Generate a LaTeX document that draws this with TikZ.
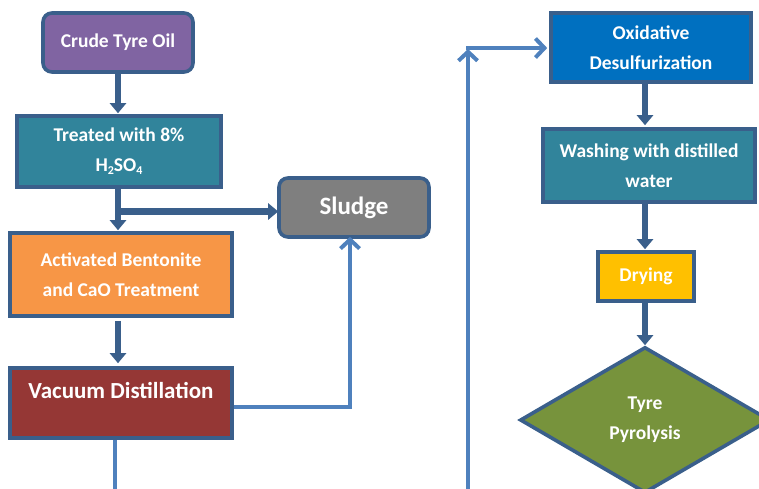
\documentclass[tikz,border=0pt]{standalone}
\usepackage{fontspec}
\setmainfont{Carlito}
\usetikzlibrary{arrows.meta,shapes.geometric}
\definecolor{bordc}{HTML}{3A5F8B}
\definecolor{purp}{HTML}{8064A2}
\definecolor{teal}{HTML}{31849B}
\definecolor{orng}{HTML}{F79646}
\definecolor{maroon}{HTML}{953735}
\definecolor{grayb}{HTML}{7F7F7F}
\definecolor{blueb}{HTML}{0070C0}
\definecolor{yell}{HTML}{FFC000}
\definecolor{grn}{HTML}{77933C}
\definecolor{lblue}{HTML}{4F81BD}
\newcommand{\subsc}[1]{\raisebox{-0.3ex}{\fontsize{12}{12}\selectfont #1}}
\tikzset{
  box/.style={draw=bordc, line width=3.6pt, text=white, align=center, inner sep=0pt,
    font=\fontsize{19.5}{30}\selectfont\bfseries},
  rbox/.style={box, rounded corners=9pt},
  darr/.style={draw=bordc, line width=6.5pt, -{Triangle[length=10pt,width=16pt]}},
  larr/.style={draw=lblue, line width=4pt, -{Straight Barb[length=9pt,width=19pt]}},
  lline/.style={draw=lblue, line width=4pt},
}
\begin{document}
\begin{tikzpicture}[x=1pt,y=-1pt]
\useasboundingbox (0,0) rectangle (759,488);
\clip (0,0) rectangle (759,488);
% left column
\node[rbox, fill=purp, minimum width=150pt, minimum height=59pt] (crude) at (118,42.5) {Crude Tyre Oil};
\node[box, fill=teal, minimum width=204pt, minimum height=71pt] (treat) at (119,151.5) {Treated with 8\%\\H\subsc{2}SO\subsc{4}};
\node[rbox, fill=grayb, minimum width=150pt, minimum height=59pt, font=\fontsize{25}{29}\selectfont\bfseries] (sludge) at (354,207.5) {Sludge};
\node[box, fill=orng, minimum width=222pt, minimum height=83pt] (activ) at (121,274.5) {Activated Bentonite\\and CaO Treatment};
\node[box, fill=maroon, minimum width=222pt, minimum height=70pt, font=\fontsize{23}{24}\selectfont\bfseries] (vacuum) at (121,403) {Vacuum Distillation\\[-6pt]\strut};
% right column
\node[box, fill=blueb, minimum width=200pt, minimum height=69pt] (oxid) at (651,47.5) {Oxidative\\Desulfurization};
\node[box, fill=teal, minimum width=212pt, minimum height=73pt] (wash) at (649,165.5) {Washing with distilled\\water};
\node[box, fill=yell, minimum width=96pt, minimum height=49pt] (dry) at (646,276.5) {Drying};
\node[box, fill=grn, shape=diamond, aspect=1.7, minimum width=250pt, minimum height=146pt] (pyro) at (645,420) {Tyre\\Pyrolysis};
% coordinates
\coordinate (lx) at (118,0);
\coordinate (br) at (118,211.5);
\coordinate (c1) at (350,407);
\coordinate (vb) at (115,500);
\coordinate (rb) at (468,500);
\coordinate (rc) at (468,48);
\coordinate (rx) at (645,0);
% dark arrows left
\draw[darr] (crude.south -| lx) -- ([yshift=1pt]treat.north -| lx);
\draw[darr] (treat.south -| lx) -- ([yshift=1pt]activ.north -| lx);
\draw[darr] ([xshift=-3pt]br) -- ([xshift=1pt]br -| sludge.west);
\draw[darr, shorten <=3pt, shorten >=3pt] (activ.south -| lx) -- (vacuum.north -| lx);
% light blue connectors
\draw[larr] (c1 -| vacuum.east) -| ([yshift=2pt]c1 |- sludge.south);
\draw[lline] (vb |- vacuum.south) -- (vb);
\draw[larr] (rb) -- ([yshift=-1pt]rc);
\draw[larr] ([xshift=-2pt]rc) -- ([xshift=-2pt]rc -| oxid.west);
% dark arrows right
\draw[darr] (oxid.south -| rx) -- ([yshift=2pt]wash.north -| rx);
\draw[darr] (wash.south -| rx) -- ([yshift=1pt]dry.north -| rx);
\draw[darr] (dry.south -| rx) -- (pyro.north);
\end{tikzpicture}
\end{document}
